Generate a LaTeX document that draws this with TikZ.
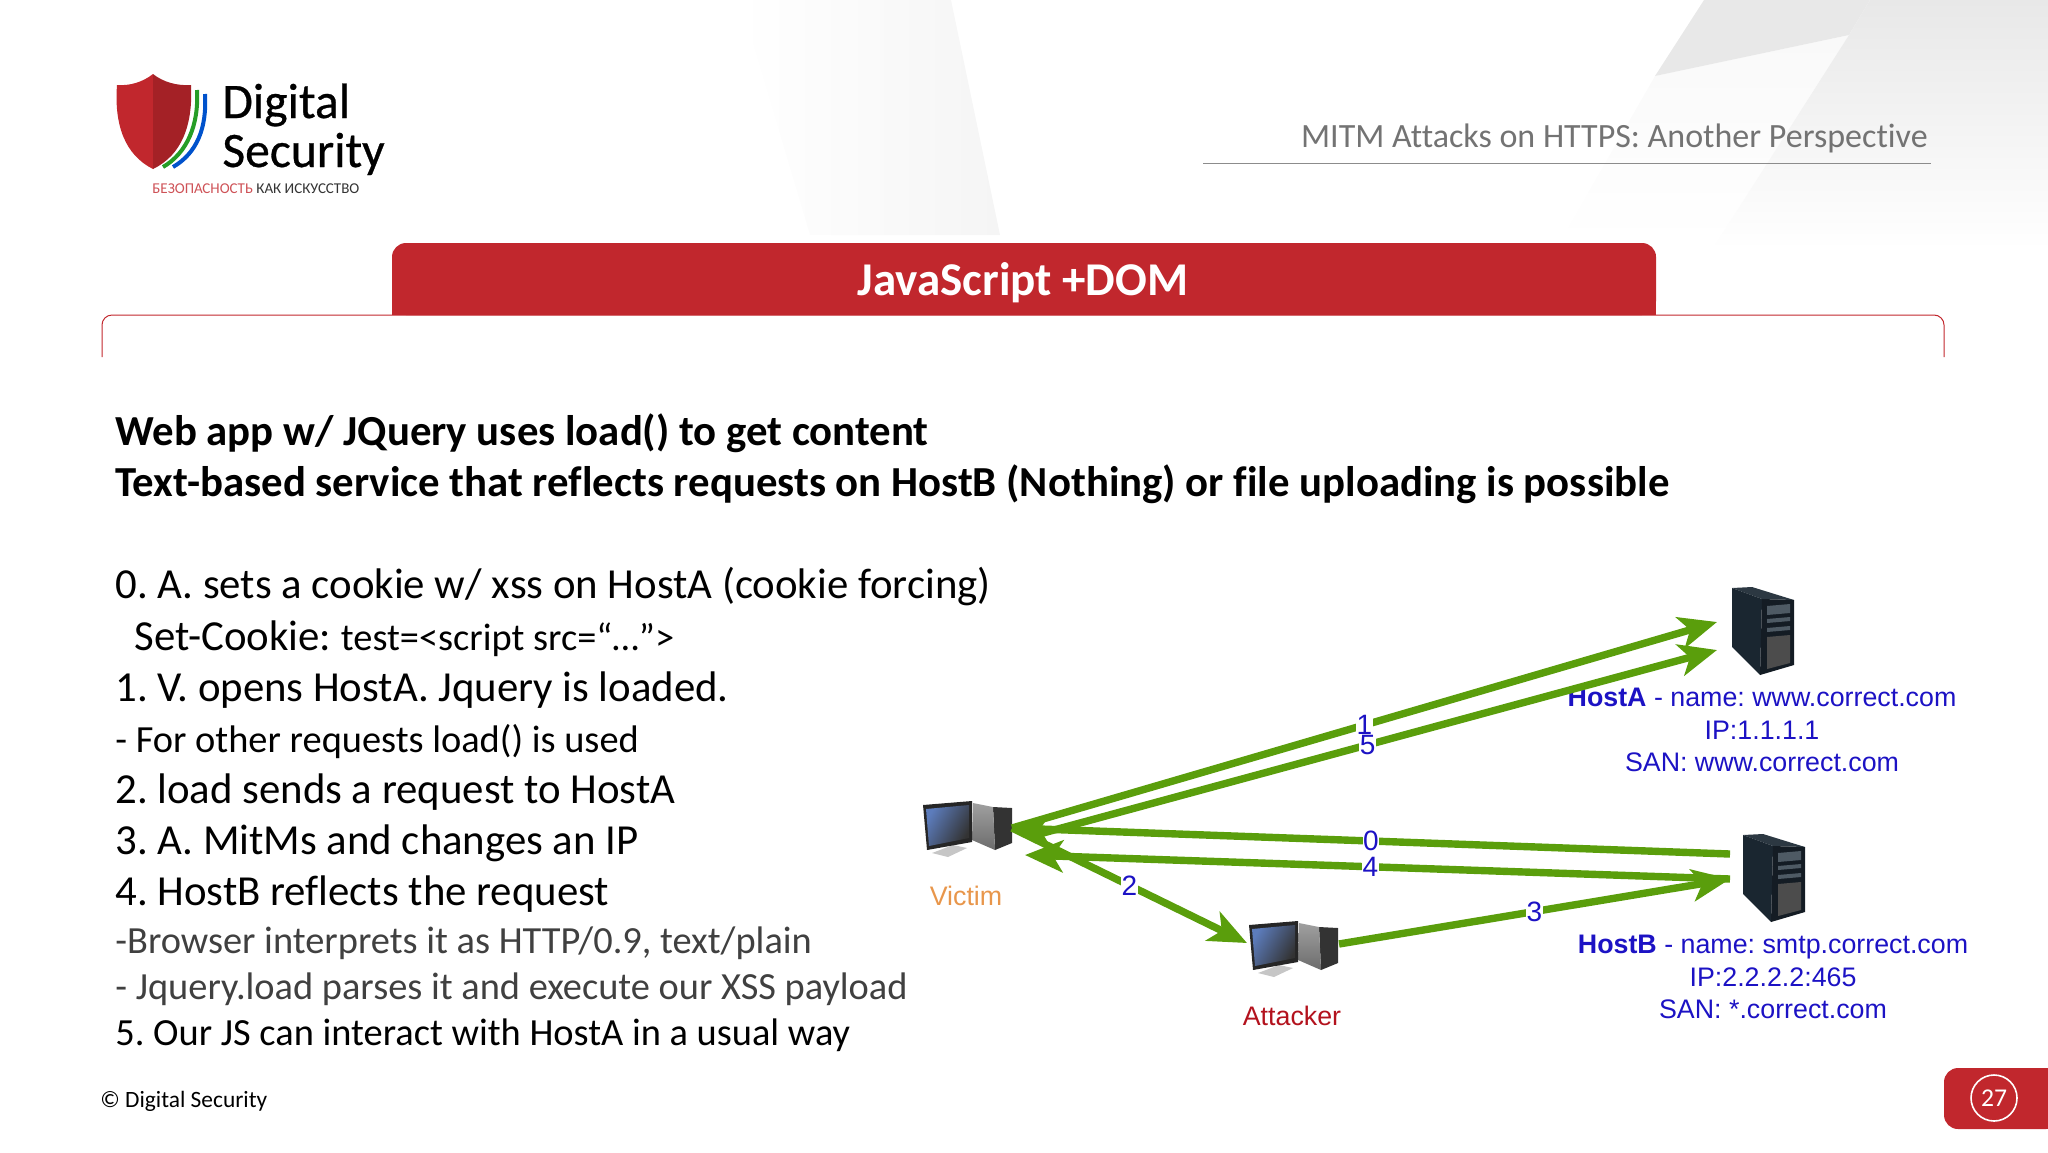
\documentclass[tikz,border=0pt]{standalone}
\usepackage{fontspec}
\setmainfont[Ligatures=NoCommon]{Carlito}
\newfontfamily\arialfont{Liberation Sans}
\newfontfamily\logofont[FakeBold=0.6,Ligatures=NoCommon]{Carlito}
\usetikzlibrary{arrows.meta,positioning,calc}
\definecolor{dsred}{HTML}{C1272D}
\definecolor{arrowgreen}{HTML}{5A9E0C}
\definecolor{labelblue}{HTML}{1C12C4}
\definecolor{bodygray}{HTML}{404040}
\definecolor{wedgegray}{HTML}{F5F5F5}
\definecolor{wedgedark}{HTML}{E8E8E8}
\definecolor{wedgelight}{HTML}{F9F9F9}
\definecolor{serverside}{HTML}{1A2630}
\definecolor{servertop}{HTML}{2C3842}
\definecolor{serverfront}{HTML}{141C24}
\definecolor{serverbay}{HTML}{4E5A64}
\definecolor{screenblue}{HTML}{5C7CBC}
\definecolor{victimorange}{HTML}{E8964B}
\definecolor{attackerred}{HTML}{B3121D}

\tikzset{
  lineleft/.style={anchor=base west, inner sep=0pt, text=black, font=\fontsize{21.4}{25}\selectfont},
  linebold/.style={lineleft, font=\fontsize{21.4}{25}\selectfont\bfseries},
  linesmall/.style={lineleft, font=\fontsize{19.2}{23}\selectfont},
  linegray/.style={linesmall, text=bodygray},
  flow/.style={draw=arrowgreen, line width=3.7pt, -{Stealth[length=19pt,width=16pt,inset=5pt]}},
  flownum/.style={fill=white, text=labelblue, inner sep=0.3pt, pos=0.5, font=\arialfont\fontsize{14}{16}\selectfont},
  hostinfo/.style={align=center, inner sep=0pt, text=labelblue, font=\arialfont\fontsize{13.4}{16.3}\selectfont},
  hostname/.style={inner sep=0pt, font=\arialfont\fontsize{13.4}{16}\selectfont},
  hostbox/.style={inner sep=0pt, minimum width=33pt, minimum height=44pt},
  pcbox/.style={inner sep=0pt, minimum width=45pt, minimum height=30pt},
  pics/desktop/.style={code={
    \fill[black!80!white] (71,6) -- (90,7) -- (90,42) -- (73,49) -- cycle;
    \shade[top color=gray!75, bottom color=gray!85!black] (51,2) -- (71,6) -- (73,49) -- (50,39) -- cycle;
    \fill[gray!45] (10,52) -- (26,56) -- (45,47) -- (31,44) -- cycle;
    \fill[black!85] (1,4) -- (50,0) -- (50,41) -- (5,49) -- cycle;
    \shade[left color=screenblue, right color=black!80, shading angle=60] (4,8) -- (47,4) -- (47,37) -- (7,45) -- cycle;
  }},
  pics/server/.style={code={
    \fill[servertop] (-1,1) -- (19,0) -- (61,13) -- (29,12) -- cycle;
    \fill[serverside] (-1,1) -- (29,12) -- (27,88) -- (-1,60) -- cycle;
    \fill[serverfront] (29,12) -- (61,13) -- (61,78) -- (27,88) -- cycle;
    \fill[serverbay] (34,19) -- (57,17) -- (57,26) -- (34,28) -- cycle;
    \fill[serverbay] (34,32) -- (57,30) -- (57,34) -- (34,36) -- cycle;
    \fill[serverbay] (34,41) -- (57,39) -- (57,43) -- (34,45) -- cycle;
    \fill[black!70] (34,50) -- (57,48) -- (57,76) -- (34,82) -- cycle;
  }}
}

\begin{document}
\frenchspacing
\begin{tikzpicture}[x=0.5pt, y=-0.5pt]
\useasboundingbox (0,0) rectangle (2048,1152);

% background
\shade[left color=white, right color=wedgegray] (740,0) -- (951,0) -- (1000,235) -- (810,235) -- cycle;
\shade[top color=wedgelight, bottom color=white] (1655,76) -- (1849,35) -- (1720,245) -- (1558,245) -- cycle;
\fill[wedgedark] (1704,0) -- (1870,0) -- (1849,35) -- (1655,76) -- cycle;
\shade[top color=wedgedark, middle color=wedgedark, bottom color=white] (1870,0) -- (2048,0) -- (2048,250) -- (1712,250) -- (1849,35) -- cycle;

% logo
\fill[dsred] (153,74) .. controls (143,82) and (130,86) .. (117,85) .. controls (114,125) and (125,155) .. (153,169) -- cycle;
\fill[dsred!85!black] (153,74) .. controls (163,82) and (177,86) .. (191,85) .. controls (193,125) and (182,155) .. (153,169) -- cycle;
\draw[line width=2pt, draw=green!55!black!85] (197,90) .. controls (199,125) and (187,153) .. (163,167);
\draw[line width=2pt, draw=blue!60!cyan!80!black] (205,94) .. controls (207,128) and (197,153) .. (173,167);
\node[anchor=base west, inner sep=0pt, font=\logofont\fontsize{24.8}{28}\selectfont] (logo1) at (222,118) {Digital};
\node[anchor=base west, inner sep=0pt, font=\logofont\fontsize{24.8}{28}\selectfont] (logo2) at (222,167) {Security};
\node[anchor=base west, inner sep=0pt, text=black!80, font=\fontsize{7.5}{9}\selectfont] (logo3) at (152,193) {\textcolor{dsred!80}{БЕЗОПАСНОСТЬ} КАК ИСКУССТВО};

% header
\node[anchor=base east, inner sep=0pt, text=black!55, font=\fontsize{17}{20}\selectfont] (headline) at (1928,147) {MITM Attacks on HTTPS: Another Perspective};
\draw[black!45, line width=0.5pt] (1203,163) -- (1931,163);

% title frame and tab
\draw[dsred, line width=0.5pt, rounded corners=5pt] (102,357) -- (102,315) -- (1944,315) -- (1944,357);
\fill[dsred, rounded corners=7pt] (392,315) -- (392,243) -- (1656,243) -- (1656,315) -- cycle;
\fill[dsred] (392,300) rectangle (1656,315);
\node[text=white, font=\fontsize{23.5}{28}\selectfont\bfseries] (slidetitle) at (1023,283) {JavaScript +DOM};

% body text
\node[linebold] (head1) at (115,445) {Web app w/ JQuery uses load() to get content};
\node[linebold] (head2) at (115,496) {Text-based service that reflects requests on HostB (Nothing) or file uploading is possible};
\node[lineleft] (step0) at (115,598) {0. A. sets a cookie w/ xss on HostA (cookie forcing)};
\node[lineleft] (step0b) at (134,650) {Set-Cookie: {\fontsize{19.2}{23}\selectfont test=<script src=“…”>}};
\node[lineleft] (step1) at (115,701) {1. V. opens HostA. Jquery is loaded.};
\node[linesmall] (step1b) at (115,752) {- For other requests load() is used};
\node[lineleft] (step2) at (115,803) {2. load sends a request to HostA};
\node[lineleft] (step3) at (115,854) {3. A. MitMs and changes an IP};
\node[lineleft] (step4) at (115,905) {4. HostB reflects the request};
\node[linegray] (step4b) at (115,953) {-Browser interprets it as HTTP/0.9, text/plain};
\node[linegray] (step4c) at (115,999) {- Jquery.load parses it and execute our XSS payload};
\node[linesmall] (step5) at (115,1045) {5. Our JS can interact with HostA in a usual way};

% footer
\node[anchor=base west, inner sep=0pt, font=\fontsize{11.7}{14}\selectfont] (copyright) at (100,1107) {© Digital Security};
\fill[dsred, rounded corners=7pt] (2060,1068) -- (1944,1068) -- (1944,1129) -- (2060,1129) -- cycle;
\node[circle, draw=white, line width=0.8pt, minimum size=23pt, inner sep=0pt, text=white, font=\fontsize{12.8}{15}\selectfont] (pagenum) at (1994,1098) {27};

% machines
\pic at (922,801) {desktop};
\pic at (1248,921) {desktop};
\pic at (1733,587) {server};
\pic at (1744,834) {server};
\node[pcbox] (victim) at (966,826) {};
\node[pcbox] (attacker) at (1292,946) {};
\node[hostbox] (hosta) at (1763,631) {};
\node[hostbox] (hostb) at (1774,878) {};

\node[hostname, text=victimorange, below=14.5pt of victim] (victimname) {Victim};
\node[hostname, text=attackerred, below=14.5pt of attacker] (attackername) {Attacker};
\node[hostinfo] (hostainfo) at (1762,730) {\textbf{HostA} - name: www.correct.com\\IP:1.1.1.1\\SAN: www.correct.com};
\node[hostinfo] (hostbinfo) at (1773,977) {\textbf{HostB} - name: smtp.correct.com\\IP:2.2.2.2:465\\SAN: *.correct.com};

% connector ends
\coordinate (vtip) at (1012,828);
\coordinate (vlow) at (1025,855);
\coordinate (vback) at (1032,836);
\coordinate (atip) at (1247,943);
\coordinate (aout) at (1339,944);
\coordinate (hain1) at (1717,622);
\coordinate (hain2) at (1717,650);
\coordinate (hbout) at (1730,854);
\coordinate (hbin) at (1730,879);

\draw[flow] (hbout) -- (vtip) node[flownum] (num0) {0};
\draw[flow] (hbin) -- (vlow) node[flownum, pos=0.51] (num4) {4};
\draw[flow] (vtip) -- (hain1) node[flownum] (num1) {1};
\draw[flow] (vback) -- (hain2) node[flownum, pos=0.49] (num5) {5};
\draw[flow] (vtip) -- (atip) node[flownum] (num2) {2};
\draw[flow] (aout) -- (hbin) node[flownum] (num3) {3};
\end{tikzpicture}
\end{document}
